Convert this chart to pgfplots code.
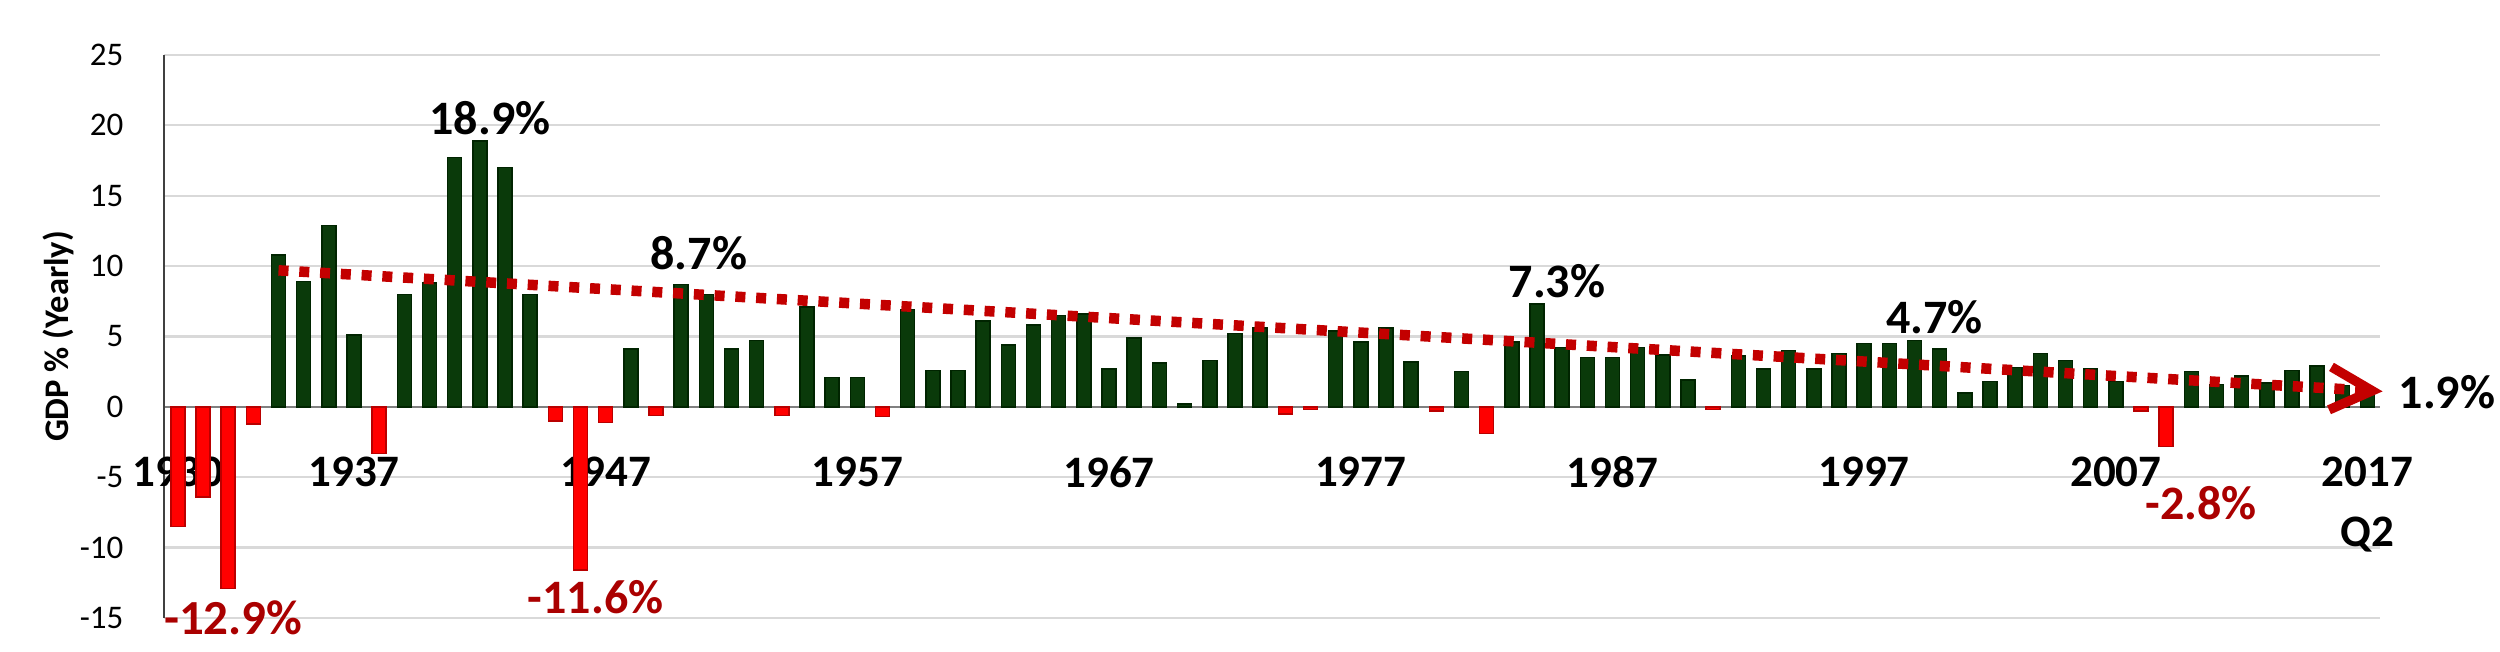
\documentclass[border=0pt]{standalone}
\usepackage{fontspec}
\setmainfont{Carlito}
\usepackage{pgfplots}
\pgfplotsset{compat=1.18}
\usepackage{pgfplotstable}
\usetikzlibrary{arrows.meta}
\definecolor{bargreen}{RGB}{10,58,10}
\definecolor{bargreenedge}{RGB}{0,36,0}
\definecolor{barred}{RGB}{255,0,0}
\definecolor{barrededge}{RGB}{185,0,0}
\definecolor{trendred}{RGB}{195,0,0}
\definecolor{labelred}{RGB}{170,0,0}
\definecolor{gridgray}{RGB}{217,217,217}
\definecolor{axisgray}{RGB}{64,64,64}
\definecolor{zerogray}{RGB}{128,128,128}

\pgfplotstableread{
year gdp
1934 10.8
1935 8.9
1936 12.9
1937 5.1
1939 8.0
1940 8.8
1941 17.7
1942 18.9
1943 17.0
1944 8.0
1948 4.1
1950 8.7
1951 8.0
1952 4.1
1953 4.7
1955 7.1
1956 2.1
1957 2.1
1959 6.9
1960 2.6
1961 2.6
1962 6.1
1963 4.4
1964 5.8
1965 6.5
1966 6.6
1967 2.7
1968 4.9
1969 3.1
1970 0.2
1971 3.3
1972 5.2
1973 5.6
1976 5.4
1977 4.6
1978 5.6
1979 3.2
1981 2.5
1983 4.6
1984 7.3
1985 4.2
1986 3.5
1987 3.5
1988 4.2
1989 3.7
1990 1.9
1992 3.6
1993 2.7
1994 4.0
1995 2.7
1996 3.8
1997 4.5
1998 4.5
1999 4.7
2000 4.1
2001 1.0
2002 1.8
2003 2.8
2004 3.8
2005 3.3
2006 2.7
2007 1.8
2010 2.5
2011 1.6
2012 2.2
2013 1.7
2014 2.6
2015 2.9
2016 1.5
2017 1.2
}\posdata

\pgfplotstableread{
year gdp
1930 -8.5
1931 -6.4
1932 -12.9
1933 -1.2
1938 -3.3
1945 -1.0
1946 -11.6
1947 -1.1
1949 -0.6
1954 -0.6
1958 -0.7
1974 -0.5
1975 -0.2
1980 -0.3
1982 -1.9
1991 -0.2
2008 -0.3
2009 -2.8
}\negdata

\begin{document}
\begin{tikzpicture}
\path[use as bounding box] (0,0) rectangle (500pt,130.4pt);
\begin{axis}[
  at={(32.8pt,6.8pt)}, anchor=south west,
  scale only axis, width=443.2pt, height=112.6pt,
  xmin=1929.45, xmax=2017.5, ymin=-15, ymax=25,
  axis x line*=middle, axis y line*=left,
  x axis line style={zerogray, line width=0.45pt},
  y axis line style={axisgray, line width=0.5pt},
  major tick length=0pt,
  ytick={-15,-10,-5,0,5,10,15,20,25},
  yticklabels={-15,-10,-5,0,5,10,15,20,25},
  xtick={1930,1937,1947,1957,1967,1977,1987,1997,2007,2017},
  xticklabels={1930,1937,1947,1957,1967,1977,1987,1997,2007,{2017\\Q2}},
  ymajorgrids, grid style={gridgray, line width=0.45pt},
  xticklabel style={font=\bfseries\fontsize{9}{12}\selectfont, align=center, yshift=-6.4pt, text=black},
  yticklabel style={font=\fontsize{6.6}{8}\selectfont, xshift=-4.6pt, text=black},
  ylabel={GDP \% (Yearly)},
  ylabel style={font=\bfseries\fontsize{6.9}{8}\selectfont, at={(axis description cs:-0.0478,0.5)}, anchor=center},
  clip=false,
]
\addplot[ybar, bar width=2.8pt, bar shift=0pt, fill=barred, draw=barrededge, line width=0.3pt] table[x=year,y=gdp] {\negdata};
\addplot[ybar, bar width=2.8pt, bar shift=0pt, fill=bargreen, draw=bargreenedge, line width=0.3pt] table[x=year,y=gdp] {\posdata};
\addplot[trendred, line width=2.1pt, dash pattern=on 2pt off 2.16pt, -{Straight Barb[length=8.4pt,width=8.6pt,line width=1.9pt]}] coordinates {(1934,9.7) (2017.6,1.1)};

\node[font=\bfseries\fontsize{9.6}{11}\selectfont] at (axis cs:1942.4,20.5) {18.9\%};
\node[font=\bfseries\fontsize{9.6}{11}\selectfont] at (axis cs:1950.7,10.9) {8.7\%};
\node[font=\bfseries\fontsize{9.6}{11}\selectfont] at (axis cs:1984.8,8.9) {7.3\%};
\node[font=\bfseries\fontsize{9.6}{11}\selectfont] at (axis cs:1999.8,6.4) {4.7\%};
\node[font=\bfseries\fontsize{9.6}{11}\selectfont, anchor=west, inner sep=0pt] at (axis cs:2018.2,1.03) {1.9\%};
\node[font=\bfseries\fontsize{9.8}{11}\selectfont, text=labelred] at (axis cs:1932.2,-15.0) {-12.9\%};
\node[font=\bfseries\fontsize{9.6}{11}\selectfont, text=labelred] at (axis cs:1946.6,-13.5) {-11.6\%};
\node[font=\bfseries\fontsize{9.6}{11}\selectfont, text=labelred] at (axis cs:2010.4,-6.85) {-2.8\%};
\end{axis}
\end{tikzpicture}
\end{document}
